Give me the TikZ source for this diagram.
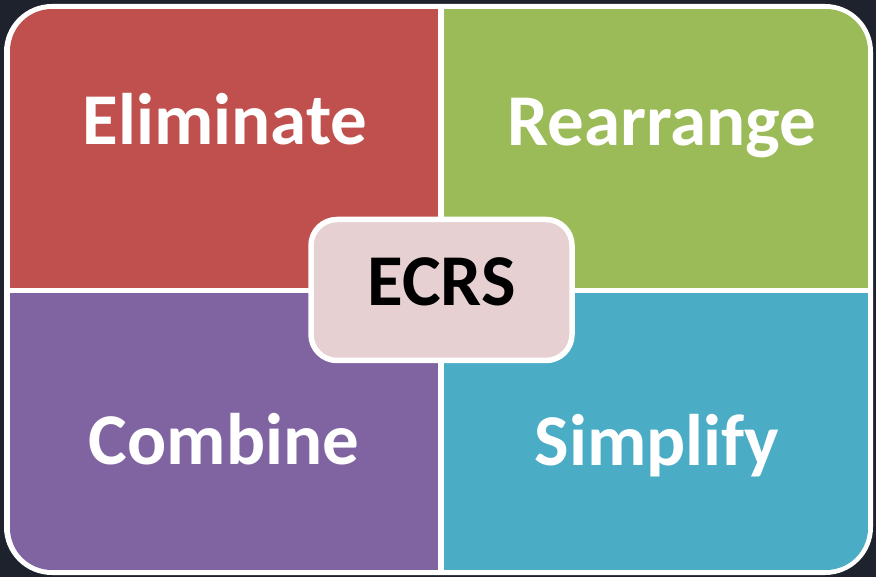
\documentclass[tikz,border=0pt]{standalone}
\usepackage{fontspec}
\setmainfont{Carlito}
\definecolor{bgdark}{HTML}{1E222C}
\definecolor{elimred}{HTML}{C0504D}
\definecolor{rearrgreen}{HTML}{9BBB59}
\definecolor{combpurple}{HTML}{8064A2}
\definecolor{simpblue}{HTML}{4BACC6}
\definecolor{ecrspink}{HTML}{E7D0D1}
\begin{document}
\begin{tikzpicture}[x=1pt, y=-1pt,
    word/.style={anchor=base, text=white, font=\fontsize{73}{80}\selectfont\bfseries},
    centrebox/.style={draw=white, line width=5.5pt, fill=ecrspink, rounded corners=26pt,
        minimum width=261pt, minimum height=141pt, inner sep=0pt,
        font=\fontsize{73}{80}\selectfont\bfseries}]
    \fill[bgdark] (0,0) rectangle (876,577);
    \useasboundingbox (0,0) rectangle (876,577);
    \fill[white, rounded corners=48pt] (4,4) rectangle (873,575);
    \begin{scope}
        \clip[rounded corners=42pt] (10,9) rectangle (868,570);
        \fill[elimred] (10,9) rectangle (438,288);
        \fill[rearrgreen] (444,9) rectangle (868,288);
        \fill[combpurple] (10,293) rectangle (438,570);
        \fill[simpblue] (444,293) rectangle (868,570);
    \end{scope}
    \node[word] (elim) at (225,145) {Eliminate};
    \node[word] (rearr) at (662,146) {Rearrange};
    \node[word] (comb) at (224,464) {Combine};
    \node[word] (simp) at (657,465) {Simplify};
    \node[centrebox] (ecrs) at (441.5,290) {};
    \node[anchor=base, font=\fontsize{73}{80}\selectfont\bfseries] (ecrslabel) at (441.5,306) {ECRS};
\end{tikzpicture}
\end{document}
